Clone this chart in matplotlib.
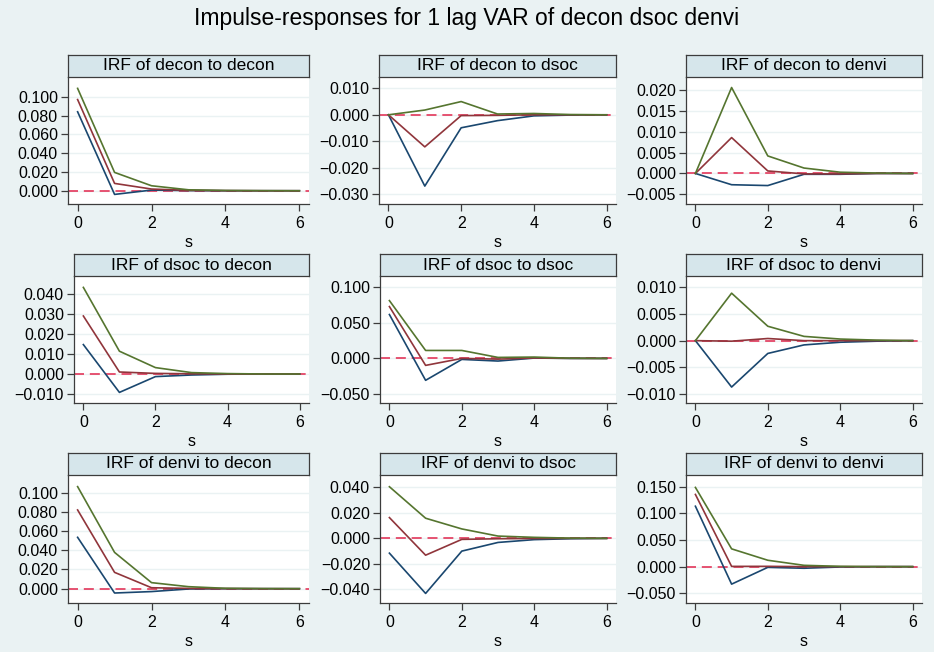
import matplotlib
matplotlib.use("Agg")
import matplotlib.pyplot as plt
from matplotlib.ticker import FixedLocator, FuncFormatter
import numpy as np

plt.rcParams['font.family'] = ['Liberation Sans', 'DejaVu Sans']

steps = [0, 1, 2, 3, 4, 5, 6]

# rows = impulse variable, columns = response variable
impulses = ["decon", "dsoc", "denvi"]
responses = ["decon", "dsoc", "denvi"]

# decon -> decon
hi_decon_decon = [0.1089, 0.0195, 0.0053, 0.0010, 0.0003, 0.0001, 0.0]
irf_decon_decon = [0.0970, 0.0078, 0.0018, 0.0004, 0.0001, 0.0, 0.0]
lo_decon_decon = [0.0840, -0.0039, 0.0007, 0.0002, 0.0, 0.0, 0.0]
# decon -> dsoc
hi_decon_dsoc = [0.0, 0.0018, 0.0050, 0.0003, 0.0005, 0.0001, 0.0]
irf_decon_dsoc = [0.0, -0.0121, -0.0003, -0.0002, 0.0, 0.0, 0.0]
lo_decon_dsoc = [0.0, -0.0269, -0.0049, -0.0022, -0.0004, -0.0001, 0.0]
# decon -> denvi
hi_decon_denvi = [0.0, 0.0206, 0.0042, 0.0013, 0.0003, 0.0001, 0.0]
irf_decon_denvi = [0.0, 0.0086, 0.0006, -0.0001, -0.0001, 0.0, 0.0]
lo_decon_denvi = [0.0, -0.0027, -0.0029, -0.0002, -0.0002, 0.0, 0.0]
# dsoc -> decon
hi_dsoc_decon = [0.0433, 0.0114, 0.0032, 0.0007, 0.0002, 0.0, 0.0]
irf_dsoc_decon = [0.0290, 0.0010, 0.0003, 0.0001, 0.0, 0.0, 0.0]
lo_dsoc_decon = [0.0147, -0.0092, -0.0013, -0.0005, -0.0001, 0.0, 0.0]
# dsoc -> dsoc
hi_dsoc_dsoc = [0.0813, 0.0112, 0.0112, 0.0014, 0.0019, 0.0003, 0.0]
irf_dsoc_dsoc = [0.0729, -0.0098, 0.0, -0.0010, 0.0006, 0.0001, 0.0]
lo_dsoc_dsoc = [0.0617, -0.0308, -0.0014, -0.0037, 0.0005, 0.0, 0.0]
# dsoc -> denvi
hi_dsoc_denvi = [0.0, 0.0089, 0.0027, 0.0008, 0.0003, 0.0001, 0.0]
irf_dsoc_denvi = [0.0, -0.0001, 0.0004, 0.0, 0.0, 0.0, 0.0]
lo_dsoc_denvi = [0.0, -0.0087, -0.0024, -0.0008, -0.0003, -0.0001, 0.0]
# denvi -> decon
hi_denvi_decon = [0.1063, 0.0378, 0.0063, 0.0021, 0.0004, 0.0001, 0.0]
irf_denvi_decon = [0.0820, 0.0170, 0.0010, 0.0003, 0.0001, 0.0, 0.0]
lo_denvi_decon = [0.0535, -0.0045, -0.0030, -0.0003, 0.0, 0.0, 0.0]
# denvi -> dsoc
hi_denvi_dsoc = [0.0405, 0.0158, 0.0074, 0.0018, 0.0008, 0.0002, 0.0]
irf_denvi_dsoc = [0.0163, -0.0132, -0.0008, -0.0003, -0.0001, 0.0, 0.0]
lo_denvi_dsoc = [-0.0116, -0.0432, -0.0100, -0.0032, -0.0010, -0.0003, 0.0]
# denvi -> denvi
hi_denvi_denvi = [0.1487, 0.0334, 0.0120, 0.0025, 0.0006, 0.0001, 0.0]
irf_denvi_denvi = [0.1355, 0.0005, 0.0006, 0.0, 0.0, 0.0, 0.0]
lo_denvi_denvi = [0.1134, -0.0328, -0.0013, -0.0030, -0.0006, 0.0, 0.0]

hi_series = [[hi_decon_decon, hi_decon_dsoc, hi_decon_denvi],
             [hi_dsoc_decon, hi_dsoc_dsoc, hi_dsoc_denvi],
             [hi_denvi_decon, hi_denvi_dsoc, hi_denvi_denvi]]
irf_series = [[irf_decon_decon, irf_decon_dsoc, irf_decon_denvi],
              [irf_dsoc_decon, irf_dsoc_dsoc, irf_dsoc_denvi],
              [irf_denvi_decon, irf_denvi_dsoc, irf_denvi_denvi]]
lo_series = [[lo_decon_decon, lo_decon_dsoc, lo_decon_denvi],
             [lo_dsoc_decon, lo_dsoc_dsoc, lo_dsoc_denvi],
             [lo_denvi_decon, lo_denvi_dsoc, lo_denvi_denvi]]

yticks = [[[0.0, 0.02, 0.04, 0.06, 0.08, 0.10],
           [-0.03, -0.02, -0.01, 0.0, 0.01],
           [-0.005, 0.0, 0.005, 0.010, 0.015, 0.020]],
          [[-0.01, 0.0, 0.01, 0.02, 0.03, 0.04],
           [-0.05, 0.0, 0.05, 0.10],
           [-0.01, -0.005, 0.0, 0.005, 0.01]],
          [[0.0, 0.02, 0.04, 0.06, 0.08, 0.10],
           [-0.04, -0.02, 0.0, 0.02, 0.04],
           [-0.05, 0.0, 0.05, 0.10, 0.15]]]
ylims = [[(-0.0141, 0.121), (-0.03366, 0.01427), (-0.00732, 0.02312)],
         [(-0.0145, 0.049), (-0.0627, 0.1159), (-0.01169, 0.01212)],
         [(-0.0149, 0.1184), (-0.0507, 0.0497), (-0.0682, 0.172)]]
xticks = [0, 2, 4, 6]

W, H = 934, 652
BG = '#eaf2f3'
BOX = '#d6e6eb'
GRID = '#eaf2f3'
NAVY = '#1a476f'
MAROON = '#90353b'
GREEN = '#55752f'
ZERO = '#e3365a'
AXC = '#3c3c3c'

fig = plt.figure(figsize=(W / 100, H / 100), dpi=100, facecolor=BG)

lefts = [[68, 379, 686], [74, 380, 686], [68, 380, 686]]
rights = [309, 616, 922]
box_tops = [55, 254, 453]
box_bots = [77, 276, 475]
ax_bots = [204, 403, 603]


def fmt(v, pos):
    s = "%.3f" % abs(v)
    return ("\u2212" + s) if v < -1e-12 else s


for r in range(3):
    for c in range(3):
        l = lefts[r][c]
        rr = rights[c]
        top = box_bots[r]
        bot = ax_bots[r]
        ax = fig.add_axes([l / W, 1 - bot / H, (rr - l) / W, (bot - top) / H])
        ax.set_facecolor('white')
        ax.set_xlim(-0.26, 6.26)
        ax.set_ylim(*ylims[r][c])
        ax.yaxis.set_major_locator(FixedLocator(yticks[r][c]))
        ax.yaxis.set_major_formatter(FuncFormatter(fmt))
        ax.xaxis.set_major_locator(FixedLocator(xticks))
        ax.grid(axis='y', color=GRID, lw=1.0, zorder=0)
        ax.set_axisbelow(True)
        for sp in ['top', 'right']:
            ax.spines[sp].set_visible(False)
        for sp in ['left', 'bottom']:
            ax.spines[sp].set_color(AXC)
            ax.spines[sp].set_linewidth(0.9)
        ax.tick_params(axis='both', direction='out', length=5, width=0.9,
                       color=AXC, labelsize=11.5, labelcolor='black')
        ax.tick_params(axis='y', pad=2.2)
        ax.tick_params(axis='x', pad=3.5)
        ax.axhline(0, color=ZERO, lw=1.2, ls=(0, (6, 3.5)), zorder=1)
        ax.plot(steps, lo_series[r][c], color=NAVY, lw=1.2, zorder=3)
        ax.plot(steps, irf_series[r][c], color=MAROON, lw=1.2, zorder=3)
        ax.plot(steps, hi_series[r][c], color=GREEN, lw=1.2, zorder=3)

        # title box
        bx = fig.add_axes([l / W, 1 - box_bots[r] / H, (rr - l) / W,
                           (box_bots[r] - box_tops[r]) / H])
        bx.set_facecolor(BOX)
        bx.set_xticks([])
        bx.set_yticks([])
        for sp in bx.spines.values():
            sp.set_color(AXC)
            sp.set_linewidth(0.9)
        bx.text(0.5, 0.5, "IRF of %s to %s" % (impulses[r], responses[c]),
                ha='center', va='center', fontsize=12.5, transform=bx.transAxes)

        fig.text((l + rr) / 2 / W, 1 - (bot + 38) / H, "s", ha='center',
                 va='center', fontsize=11.5)

fig.text(0.5, 1 - 18 / H, "Impulse-responses for 1 lag VAR of decon dsoc denvi",
         ha='center', va='center', fontsize=16.5)

fig.savefig("out.png", dpi=100, facecolor=BG)
